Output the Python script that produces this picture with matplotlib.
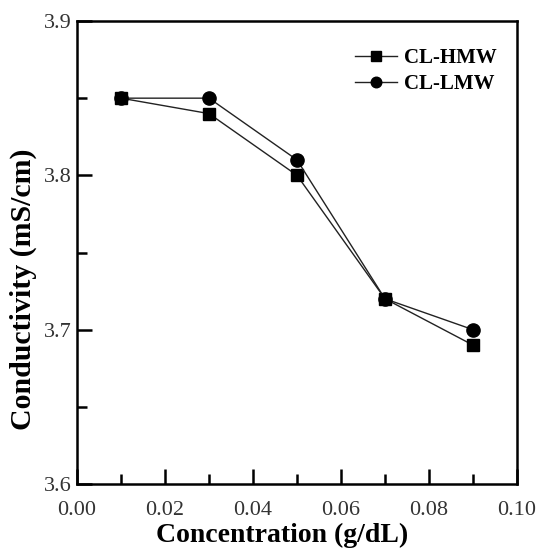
import matplotlib
matplotlib.use('Agg')
import matplotlib.pyplot as plt
from matplotlib.ticker import MultipleLocator

plt.rcParams['font.family'] = 'Liberation Serif'

conc = [0.01, 0.03, 0.05, 0.07, 0.09]
hmw = [3.85, 3.84, 3.80, 3.72, 3.69]
lmw = [3.85, 3.85, 3.81, 3.72, 3.70]

fig = plt.figure(figsize=(5.37, 5.5), dpi=100)
ax = fig.add_axes([77/537, 1 - 484/550, (517-77)/537, (484-21)/550])

ax.plot(conc, hmw, '-s', color='#222222', mfc='k', mec='k', lw=1.0, ms=9, label='CL-HMW')
ax.plot(conc, lmw, '-o', color='#222222', mfc='k', mec='k', lw=1.0, ms=9.5, label='CL-LMW')

ax.set_xlim(0, 0.10)
ax.set_ylim(3.6, 3.9)
ax.xaxis.set_major_locator(MultipleLocator(0.02))
ax.xaxis.set_minor_locator(MultipleLocator(0.01))
ax.yaxis.set_major_locator(MultipleLocator(0.1))
ax.yaxis.set_minor_locator(MultipleLocator(0.05))
ax.xaxis.set_major_formatter(plt.FormatStrFormatter('%.2f'))
ax.yaxis.set_major_formatter(plt.FormatStrFormatter('%.1f'))

ax.tick_params(which='both', direction='in', width=1.8, labelsize=16, labelcolor='#333333')
ax.tick_params(which='major', length=11)
ax.tick_params(which='minor', length=7)
ax.tick_params(axis='x', which='major', pad=12)
ax.tick_params(axis='y', which='major', pad=4)
for sp in ax.spines.values():
    sp.set_linewidth(1.8)

ax.set_xlabel('Concentration (g/dL)', fontsize=20, fontweight='bold')
ax.set_ylabel('Conductivity (mS/cm)', fontsize=21.5, fontweight='bold')
ax.yaxis.set_label_coords(-0.09, 0.42)
ax.xaxis.set_label_coords(0.467, -0.083)

leg = ax.legend(loc='upper right', bbox_to_anchor=(0.973, 0.96), borderaxespad=0,
                frameon=False, prop={'weight': 'bold', 'size': 15},
                handlelength=2.0, handletextpad=0.35, labelspacing=0.3,
                markerscale=0.8)

fig.savefig('out.png', dpi=100)
